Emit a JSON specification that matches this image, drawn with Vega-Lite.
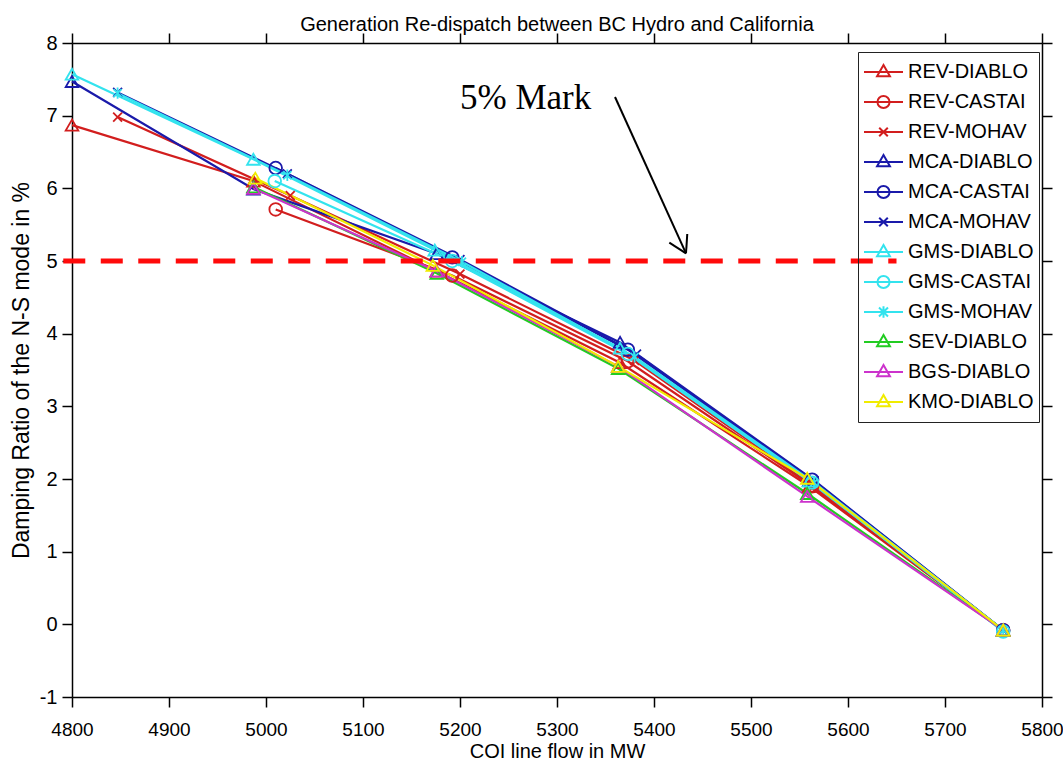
{
  "$schema": "https://vega.github.io/schema/vega-lite/v6.json",
  "width": 970,
  "height": 654,
  "autosize": {"type": "none"},
  "padding": {"left": 72, "top": 43, "right": 21, "bottom": 65},
  "background": "white",
  "config": {"view": {"stroke": null}, "font": "Liberation Sans"},
  "title": {"text": "Generation Re-dispatch between BC Hydro and California", "fontSize": 20, "font": "Liberation Sans", "fontWeight": "normal", "color": "black", "anchor": "middle", "baseline": "alphabetic", "offset": 2, "dy": 21},
  "datasets": {
    "curves": [
      {"series": "REV-DIABLO", "flow": 4800, "damping": 6.87},
      {"series": "REV-DIABLO", "flow": 4987, "damping": 6.10},
      {"series": "REV-DIABLO", "flow": 5176, "damping": 4.86},
      {"series": "REV-DIABLO", "flow": 5365, "damping": 3.60},
      {"series": "REV-DIABLO", "flow": 5560, "damping": 1.90},
      {"series": "REV-DIABLO", "flow": 5760, "damping": -0.08},
      {"series": "REV-CASTAI", "flow": 5010, "damping": 5.71},
      {"series": "REV-CASTAI", "flow": 5192, "damping": 4.80},
      {"series": "REV-CASTAI", "flow": 5373, "damping": 3.62},
      {"series": "REV-CASTAI", "flow": 5563, "damping": 1.90},
      {"series": "REV-CASTAI", "flow": 5760, "damping": -0.08},
      {"series": "REV-MOHAV", "flow": 4847, "damping": 6.98},
      {"series": "REV-MOHAV", "flow": 5025, "damping": 5.90},
      {"series": "REV-MOHAV", "flow": 5200, "damping": 4.82},
      {"series": "REV-MOHAV", "flow": 5380, "damping": 3.63},
      {"series": "REV-MOHAV", "flow": 5565, "damping": 1.90},
      {"series": "REV-MOHAV", "flow": 5760, "damping": -0.08},
      {"series": "MCA-DIABLO", "flow": 4800, "damping": 7.47},
      {"series": "MCA-DIABLO", "flow": 4987, "damping": 5.99},
      {"series": "MCA-DIABLO", "flow": 5176, "damping": 5.10},
      {"series": "MCA-DIABLO", "flow": 5365, "damping": 3.88},
      {"series": "MCA-DIABLO", "flow": 5560, "damping": 1.98},
      {"series": "MCA-DIABLO", "flow": 5760, "damping": -0.08},
      {"series": "MCA-CASTAI", "flow": 5010, "damping": 6.28},
      {"series": "MCA-CASTAI", "flow": 5192, "damping": 5.05},
      {"series": "MCA-CASTAI", "flow": 5373, "damping": 3.78},
      {"series": "MCA-CASTAI", "flow": 5563, "damping": 1.99},
      {"series": "MCA-CASTAI", "flow": 5760, "damping": -0.08},
      {"series": "MCA-MOHAV", "flow": 4847, "damping": 7.32},
      {"series": "MCA-MOHAV", "flow": 5022, "damping": 6.20},
      {"series": "MCA-MOHAV", "flow": 5200, "damping": 5.02},
      {"series": "MCA-MOHAV", "flow": 5382, "damping": 3.72},
      {"series": "MCA-MOHAV", "flow": 5565, "damping": 1.98},
      {"series": "MCA-MOHAV", "flow": 5760, "damping": -0.08},
      {"series": "GMS-DIABLO", "flow": 4800, "damping": 7.57},
      {"series": "GMS-DIABLO", "flow": 4987, "damping": 6.40},
      {"series": "GMS-DIABLO", "flow": 5174, "damping": 5.15},
      {"series": "GMS-DIABLO", "flow": 5365, "damping": 3.80},
      {"series": "GMS-DIABLO", "flow": 5560, "damping": 1.97},
      {"series": "GMS-DIABLO", "flow": 5760, "damping": -0.08},
      {"series": "GMS-CASTAI", "flow": 5009, "damping": 6.10},
      {"series": "GMS-CASTAI", "flow": 5192, "damping": 5.00},
      {"series": "GMS-CASTAI", "flow": 5373, "damping": 3.72},
      {"series": "GMS-CASTAI", "flow": 5563, "damping": 1.95},
      {"series": "GMS-CASTAI", "flow": 5760, "damping": -0.10},
      {"series": "GMS-MOHAV", "flow": 4847, "damping": 7.31},
      {"series": "GMS-MOHAV", "flow": 5022, "damping": 6.18},
      {"series": "GMS-MOHAV", "flow": 5202, "damping": 4.99},
      {"series": "GMS-MOHAV", "flow": 5380, "damping": 3.68},
      {"series": "GMS-MOHAV", "flow": 5565, "damping": 1.95},
      {"series": "GMS-MOHAV", "flow": 5760, "damping": -0.08},
      {"series": "SEV-DIABLO", "flow": 4987, "damping": 6.02},
      {"series": "SEV-DIABLO", "flow": 5176, "damping": 4.83},
      {"series": "SEV-DIABLO", "flow": 5363, "damping": 3.52},
      {"series": "SEV-DIABLO", "flow": 5558, "damping": 1.80},
      {"series": "SEV-DIABLO", "flow": 5760, "damping": -0.08},
      {"series": "BGS-DIABLO", "flow": 4987, "damping": 6.00},
      {"series": "BGS-DIABLO", "flow": 5176, "damping": 4.86},
      {"series": "BGS-DIABLO", "flow": 5363, "damping": 3.55},
      {"series": "BGS-DIABLO", "flow": 5558, "damping": 1.76},
      {"series": "BGS-DIABLO", "flow": 5760, "damping": -0.08},
      {"series": "KMO-DIABLO", "flow": 4989, "damping": 6.14},
      {"series": "KMO-DIABLO", "flow": 5172, "damping": 4.94},
      {"series": "KMO-DIABLO", "flow": 5363, "damping": 3.55},
      {"series": "KMO-DIABLO", "flow": 5558, "damping": 2.01},
      {"series": "KMO-DIABLO", "flow": 5760, "damping": -0.08}
    ],
    "mark5": [{"x": 4791, "x2": 5650, "y": 5}],
    "arrow": [
      {"x": 5359.8, "y": 7.257, "x2": 5433, "y2": 5.106},
      {"x": 5415.8, "y": 5.252, "x2": 5433, "y2": 5.106},
      {"x": 5434.3, "y": 5.372, "x2": 5433, "y2": 5.106}
    ],
    "note": [{"x": 5200, "y": 7.09, "label": "5% Mark"}]
  },
  "resolve": {"axis": {"x": "independent", "y": "independent"}},
  "layer": [
    {
      "data": {"name": "curves"},
      "mark": {"type": "line", "strokeWidth": 2.2},
      "encoding": {
        "x": {"field": "flow", "type": "quantitative", "scale": {"domain": [4800, 5800], "nice": false, "zero": false},
          "axis": {"orient": "bottom", "title": "COI line flow in MW", "values": [4800, 4900, 5000, 5100, 5200, 5300, 5400, 5500, 5600, 5700, 5800], "format": "d", "grid": false, "tickSize": 10, "tickWidth": 1.5, "tickColor": "black", "domainColor": "black", "domainWidth": 1.5, "labelPadding": 13, "labelFontSize": 19, "labelColor": "black", "labelFont": "Liberation Sans", "labelFlush": false, "labelOverlap": false, "titleFontSize": 20, "titleFont": "Liberation Sans", "titleFontWeight": "normal", "titleColor": "black", "titlePadding": 2}},
        "y": {"field": "damping", "type": "quantitative", "scale": {"domain": [-1, 8], "nice": false, "zero": false},
          "axis": {"orient": "left", "title": "Damping Ratio of the N-S mode in %", "values": [-1, 0, 1, 2, 3, 4, 5, 6, 7, 8], "labelExpr": "'' + datum.value", "grid": false, "tickSize": 10, "tickWidth": 1.5, "tickColor": "black", "domainColor": "black", "domainWidth": 1.5, "labelPadding": 5, "labelFontSize": 20, "labelColor": "black", "labelFont": "Liberation Sans", "labelFlush": false, "labelOverlap": false, "titleFontSize": 23, "titleFont": "Liberation Sans", "titleFontWeight": "normal", "titleColor": "black", "titlePadding": 6}},
        "color": {"field": "series", "type": "nominal",
          "scale": {"domain": ["REV-DIABLO", "REV-CASTAI", "REV-MOHAV", "MCA-DIABLO", "MCA-CASTAI", "MCA-MOHAV", "GMS-DIABLO", "GMS-CASTAI", "GMS-MOHAV", "SEV-DIABLO", "BGS-DIABLO", "KMO-DIABLO"],
            "range": ["#d21e1e", "#d21e1e", "#d21e1e", "#1a1aaa", "#1a1aaa", "#1a1aaa", "#33e3ee", "#33e3ee", "#33e3ee", "#22cc22", "#cc33cc", "#f0ec00"]},
          "legend": {"orient": "none", "legendX": 786, "legendY": 9, "title": null, "strokeColor": "#222222", "padding": 5, "symbolSize": 1521, "clipHeight": 30, "rowPadding": 0, "labelFontSize": 20, "labelFont": "Liberation Sans", "labelColor": "black", "labelOffset": 4, "labelLimit": 300, "symbolStrokeWidth": 2, "symbolFillColor": "transparent",
            "encode": {"symbols": {"update": {
              "shape": {"signal": "indexof(datum.value,'CASTAI')>=0 ? 'M-1,0H1M0.31,0A0.31,0.31,0,1,1,-0.31,0A0.31,0.31,0,1,1,0.31,0' : (indexof(datum.value,'GMS-MOHAV')>=0 ? 'M-1,0H1M0,-0.3V0.3M-0.23,-0.23L0.23,0.23M-0.23,0.23L0.23,-0.23' : (indexof(datum.value,'MOHAV')>=0 ? 'M-1,0H1M-0.22,-0.22L0.22,0.22M-0.22,0.22L0.22,-0.22' : 'M-1,0H1M0,-0.36L0.33,0.22L-0.33,0.22Z'))"}
            }}}}
        }
      }
    },
    {
      "data": {"name": "curves"},
      "mark": {"type": "point", "filled": false, "strokeWidth": 1.8, "size": 160, "opacity": 1},
      "encoding": {
        "x": {"field": "flow", "type": "quantitative", "scale": {"domain": [4800, 5800], "nice": false, "zero": false}, "axis": null},
        "y": {"field": "damping", "type": "quantitative", "scale": {"domain": [-1, 8], "nice": false, "zero": false}, "axis": null},
        "stroke": {"field": "series", "type": "nominal", "legend": null,
          "scale": {"domain": ["BGS-DIABLO", "GMS-CASTAI", "GMS-DIABLO", "GMS-MOHAV", "KMO-DIABLO", "MCA-CASTAI", "MCA-DIABLO", "MCA-MOHAV", "REV-CASTAI", "REV-DIABLO", "REV-MOHAV", "SEV-DIABLO"],
            "range": ["#cc33cc", "#33e3ee", "#33e3ee", "#33e3ee", "#f0ec00", "#1a1aaa", "#1a1aaa", "#1a1aaa", "#d21e1e", "#d21e1e", "#d21e1e", "#22cc22"]}},
        "shape": {"field": "series", "type": "nominal", "legend": null,
          "scale": {"domain": ["BGS-DIABLO", "GMS-CASTAI", "GMS-DIABLO", "GMS-MOHAV", "KMO-DIABLO", "MCA-CASTAI", "MCA-DIABLO", "MCA-MOHAV", "REV-CASTAI", "REV-DIABLO", "REV-MOHAV", "SEV-DIABLO"],
            "range": ["triangle-up", "circle", "triangle-up", "M0,-0.9V0.9M-0.64,-0.64L0.64,0.64M-0.64,0.64L0.64,-0.64", "triangle-up", "circle", "triangle-up", "M-0.7,-0.7L0.7,0.7M-0.7,0.7L0.7,-0.7", "circle", "triangle-up", "M-0.7,-0.7L0.7,0.7M-0.7,0.7L0.7,-0.7", "triangle-up"]}}
      }
    },
    {
      "data": {"name": "arrow"},
      "mark": {"type": "rule", "color": "black", "strokeWidth": 2},
      "encoding": {
        "x": {"field": "x", "type": "quantitative", "scale": {"domain": [4800, 5800], "nice": false, "zero": false}, "axis": null},
        "y": {"field": "y", "type": "quantitative", "scale": {"domain": [-1, 8], "nice": false, "zero": false}, "axis": null},
        "x2": {"field": "x2"},
        "y2": {"field": "y2"}
      }
    },
    {
      "data": {"name": "note"},
      "mark": {"type": "text", "font": "Liberation Serif", "fontSize": 35, "align": "left", "baseline": "alphabetic", "color": "black"},
      "encoding": {
        "x": {"field": "x", "type": "quantitative", "scale": {"domain": [4800, 5800], "nice": false, "zero": false}, "axis": null},
        "y": {"field": "y", "type": "quantitative", "scale": {"domain": [-1, 8], "nice": false, "zero": false}, "axis": null},
        "text": {"field": "label"}
      }
    },
    {
      "data": {"name": "mark5"},
      "mark": {"type": "rule", "color": "#ff0a0a", "strokeWidth": 5, "strokeDash": [22, 15.5]},
      "encoding": {
        "x": {"field": "x", "type": "quantitative", "scale": {"domain": [4800, 5800], "nice": false, "zero": false},
          "axis": {"orient": "top", "labels": false, "title": null, "values": [4800, 4900, 5000, 5100, 5200, 5300, 5400, 5500, 5600, 5700, 5800], "grid": false, "tickSize": 10, "tickWidth": 1.5, "tickColor": "black", "domainColor": "black", "domainWidth": 1.5}},
        "x2": {"field": "x2"},
        "y": {"field": "y", "type": "quantitative", "scale": {"domain": [-1, 8], "nice": false, "zero": false},
          "axis": {"orient": "right", "labels": false, "title": null, "values": [-1, 0, 1, 2, 3, 4, 5, 6, 7, 8], "grid": false, "tickSize": 10, "tickWidth": 1.5, "tickColor": "black", "domainColor": "black", "domainWidth": 1.5}}
      }
    }
  ]
}
